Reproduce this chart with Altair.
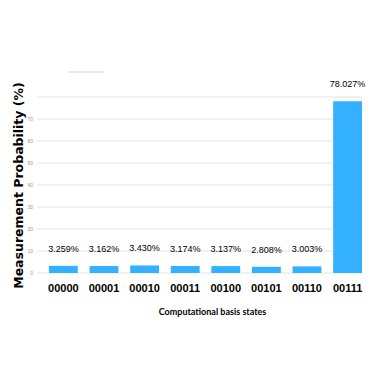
import altair as alt
import pandas as pd

states = ["00000", "00001", "00010", "00011", "00100", "00101", "00110", "00111"]
probs = [3.259, 3.162, 3.430, 3.174, 3.137, 2.808, 3.003, 78.027]
labels = ["3.259%", "3.162%", "3.430%", "3.174%", "3.137%", "2.808%", "3.003%", "78.027%"]
y_grid = [0, 10, 20, 30, 40, 50, 60, 70, 80]
y_labels = [0, 10, 20, 30, 40, 50, 60, 70]

df = pd.DataFrame({"state": states, "prob": probs, "label": labels})
grid_df = pd.DataFrame({"v": y_grid})
ylab_df = pd.DataFrame({"v": y_labels})

W, H = 325, 176

y_scale = alt.Scale(domain=[0, 80], nice=False)

x_enc = alt.X(
    "state:N",
    sort=states,
    scale=alt.Scale(range=[12, W], paddingInner=0.29, paddingOuter=0),
    axis=alt.Axis(
        title="Computational basis states",
        labelAngle=0,
        labelFont="Liberation Sans",
        labelFontWeight="bold",
        labelFontSize=11,
        labelColor="#000000",
        labelPadding=9,
        ticks=False,
        domain=False,
        grid=False,
        titleFont="Lato",
        titleFontWeight="bold",
        titleFontSize=9,
        titleColor="#000000",
        titleX=175,
        titlePadding=14,
    ),
)

y_enc = alt.Y(
    "prob:Q",
    scale=y_scale,
    axis=alt.Axis(
        title="Measurement Probability (%)",
        labels=False,
        ticks=False,
        domain=False,
        grid=False,
        titleFont="DejaVu Sans",
        titleFontWeight="bold",
        titleFontSize=12.5,
        titleColor="#000000",
        titleX=-12,
        titleY=H / 2,
        titleAlign="center",
        titleBaseline="bottom",
    ),
)

grid = alt.Chart(grid_df).mark_rule(color="#e3e3e3", strokeWidth=1).encode(
    y=alt.Y("v:Q", scale=y_scale)
)

ylabels = alt.Chart(ylab_df).mark_text(
    fontSize=5, color="#999999", align="right", baseline="middle"
).encode(
    y=alt.Y("v:Q", scale=y_scale),
    x=alt.value(-4),
    text=alt.Text("v:Q"),
)

bars = alt.Chart(df).mark_bar(color="#33B0FF").encode(x=x_enc, y=y_enc)

text = alt.Chart(df).mark_text(
    font="Liberation Sans",
    fontSize=9,
    color="#000000",
    baseline="middle",
    dy=-17,
).encode(x=alt.X("state:N", sort=states), y="prob:Q", text="label:N")

deco = alt.Chart(df).mark_rule(color="#e6e6e6", strokeWidth=2).encode(
    x=alt.value(32), x2=alt.value(67), y=alt.value(-25)
)

chart = (
    alt.layer(grid, ylabels, bars, text, deco)
    .properties(
        width=W,
        height=H,
        autosize=alt.AutoSizeParams(type="none"),
        padding={"left": 29, "top": 89, "right": 4, "bottom": 100},
    )
    .configure_view(stroke=None)
)

chart.save("out.html", embed_options={"renderer": "svg", "actions": False})
